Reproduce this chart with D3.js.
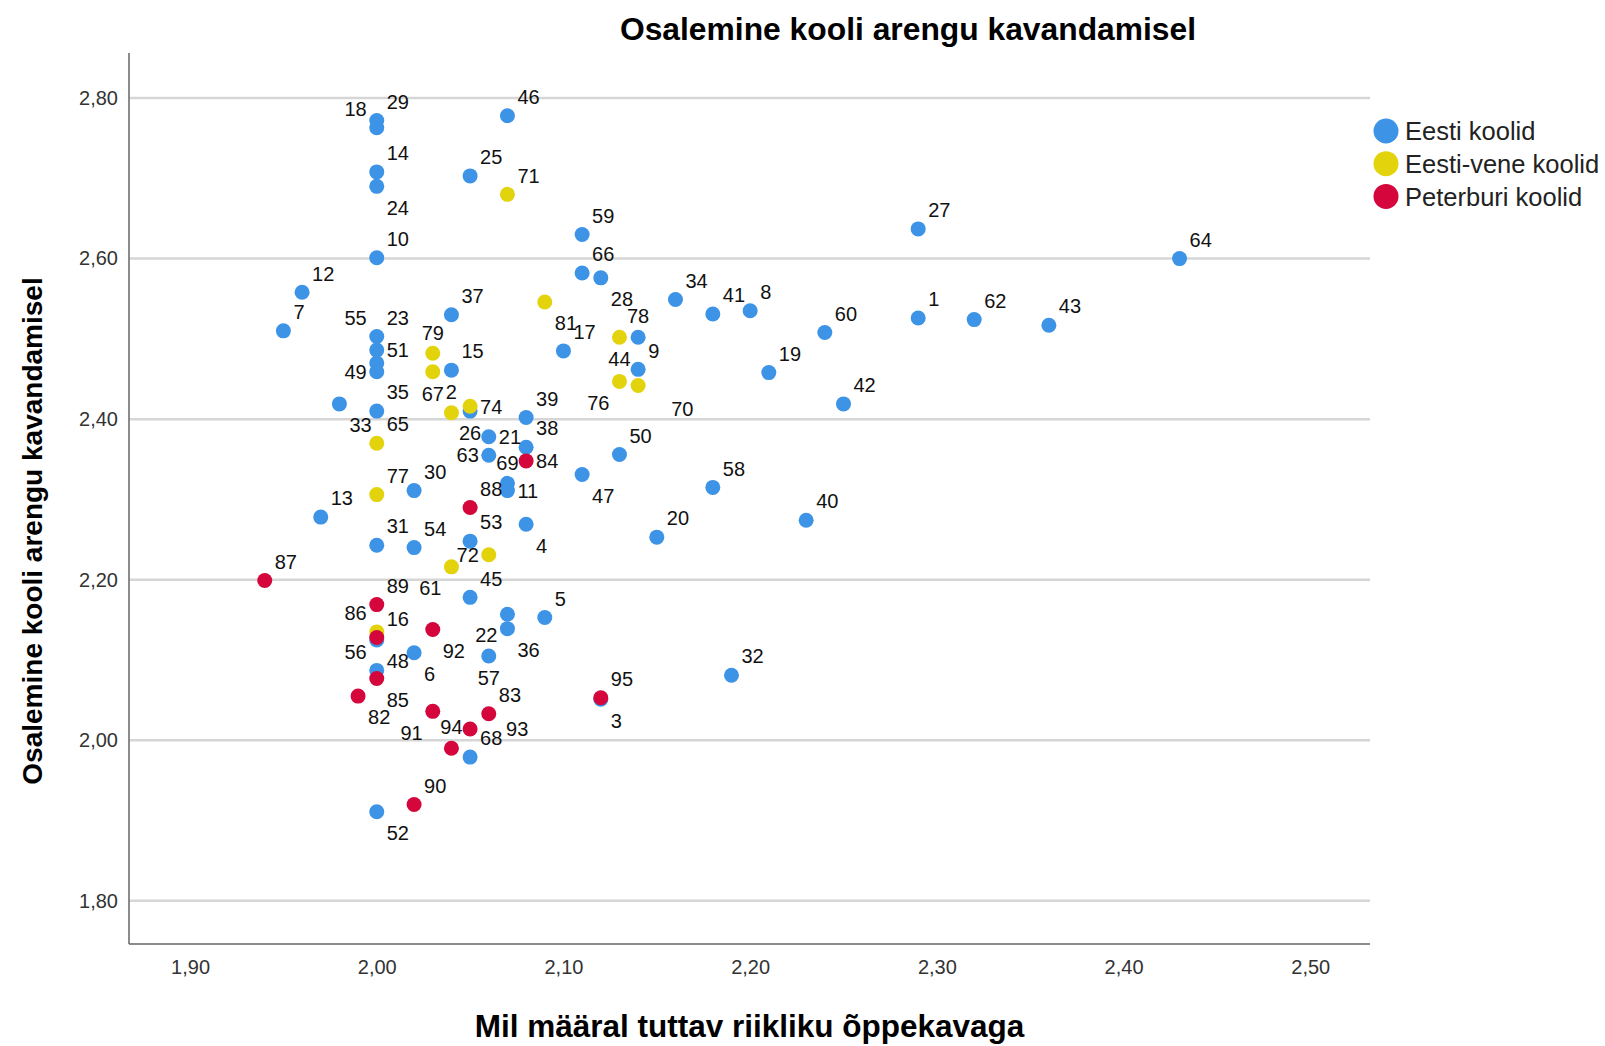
<!DOCTYPE html>
<html>
<head>
<meta charset="utf-8">
<script src="https://cdn.jsdelivr.net/npm/d3@7"></script>
<style>
  body { margin: 0; background: #fff; }
  text { font-family: "Liberation Sans", Arial, sans-serif; }
</style>
</head>
<body>
<div class="chart"></div>
<script>
// school number, x = familiarity with national curriculum, y = participation
var schoolIds = [
  29, 18, 46, 14, 24, 25, 10, 59, 27, 64, 66, 28, 12, 7, 37, 34, 41, 8, 60, 1,
  62, 43, 55, 51, 23, 49, 15, 17, 78, 9, 19, 42, 33, 35, 26, 39, 21, 38, 63, 50,
  69, 11, 47, 58, 30, 13, 40, 4, 20, 53, 31, 54, 45, 5, 22, 36, 6, 57, 48, 56,
  52, 68, 3, 32,
  71, 81, 44, 79, 67, 76, 70, 2, 74, 65, 77, 61, 72, 86,
  84, 88, 87, 89, 16, 92, 85, 82, 91, 83, 93, 94, 95, 90
];
var familiarity = [
  2.00, 2.00, 2.07, 2.00, 2.00, 2.05, 2.00, 2.11, 2.29, 2.43, 2.11, 2.12, 1.96, 1.95, 2.04, 2.16, 2.18, 2.20, 2.24, 2.29,
  2.32, 2.36, 2.00, 2.00, 2.00, 2.00, 2.04, 2.10, 2.14, 2.14, 2.21, 2.25, 1.98, 2.00, 2.05, 2.08, 2.06, 2.08, 2.06, 2.13,
  2.07, 2.07, 2.11, 2.18, 2.02, 1.97, 2.23, 2.08, 2.15, 2.05, 2.00, 2.02, 2.05, 2.09, 2.07, 2.07, 2.02, 2.06, 2.00, 2.00,
  2.00, 2.05, 2.12, 2.19,
  2.07, 2.09, 2.13, 2.03, 2.03, 2.13, 2.14, 2.04, 2.05, 2.00, 2.00, 2.04, 2.06, 2.00,
  2.08, 2.05, 1.94, 2.00, 2.00, 2.03, 2.00, 1.99, 2.03, 2.06, 2.05, 2.04, 2.12, 2.02
];
var participation = [
  2.772, 2.763, 2.778, 2.708, 2.690, 2.703, 2.601, 2.630, 2.637, 2.600, 2.582, 2.576, 2.558, 2.510, 2.530, 2.549, 2.531, 2.535, 2.508, 2.526,
  2.524, 2.517, 2.503, 2.486, 2.470, 2.459, 2.461, 2.485, 2.502, 2.462, 2.458, 2.419, 2.419, 2.410, 2.410, 2.402, 2.378, 2.365, 2.355, 2.356,
  2.320, 2.311, 2.331, 2.315, 2.311, 2.278, 2.274, 2.269, 2.253, 2.248, 2.243, 2.240, 2.178, 2.153, 2.157, 2.139, 2.109, 2.105, 2.125, 2.087,
  1.911, 1.979, 2.051, 2.081,
  2.680, 2.546, 2.502, 2.482, 2.459, 2.447, 2.442, 2.408, 2.416, 2.370, 2.306, 2.216, 2.231, 2.135,
  2.348, 2.290, 2.199, 2.169, 2.128, 2.138, 2.077, 2.055, 2.036, 2.033, 2.014, 1.990, 2.053, 1.920
];
var schoolGroup = [
  "E","E","E","E","E","E","E","E","E","E","E","E","E","E","E","E","E","E","E","E",
  "E","E","E","E","E","E","E","E","E","E","E","E","E","E","E","E","E","E","E","E",
  "E","E","E","E","E","E","E","E","E","E","E","E","E","E","E","E","E","E","E","E",
  "E","E","E","E",
  "V","V","V","V","V","V","V","V","V","V","V","V","V","V",
  "P","P","P","P","P","P","P","P","P","P","P","P","P","P"
];
// side of the point where the number label sits
var labelSide = [
  "ne","nw","ne","ne","se","ne","ne","ne","ne","ne","ne","se","ne","ne","ne","ne","ne","ne","ne","ne",
  "ne","ne","nw","e","ne2","w","ne","ne","n","ne","ne","ne","se","ne","s","ne","e","ne","w","ne",
  "n","e","se","ne","ne","ne","ne","se","ne","ne","ne","ne","ne","ne","sw","se","se","s","se","nw",
  "se","ne","se","ne",
  "ne","se","s","n","s","sw","se2","n","e","ne","ne","sw","w","nw",
  "e","ne","ne","ne","ne","se","se","se","sw","ne","e2","n","ne","ne"
];

var groupKeys = ["E", "V", "P"];
var groupNames = ["Eesti koolid", "Eesti-vene koolid", "Peterburi koolid"];
var groupColors = ["#3d93e6", "#e2d30c", "#d4063c"];

var xTicks = [1.9, 2.0, 2.1, 2.2, 2.3, 2.4, 2.5];
var yTicks = [1.8, 2.0, 2.2, 2.4, 2.6, 2.8];

var chartTitle = "Osalemine kooli arengu kavandamisel";
var xTitle = "Mil määral tuttav riikliku õppekavaga";
var yTitle = "Osalemine kooli arengu kavandamisel";

var svgWidth = 1605;
var svgHeight = 1046;
var plot = { left: 129, right: 1370, top: 53, bottom: 944 };

var points = schoolIds.map(function(id, i) {
  return { id: id, x: familiarity[i], y: participation[i], group: schoolGroup[i], side: labelSide[i] };
});

var placement = {
  ne:  { anchor: "start",  dx: 10,  dy: -19 },
  nw:  { anchor: "end",    dx: -10, dy: -19 },
  se:  { anchor: "start",  dx: 10,  dy: 21 },
  sw:  { anchor: "end",    dx: -10, dy: 21 },
  e:   { anchor: "start",  dx: 10,  dy: 0 },
  w:   { anchor: "end",    dx: -10, dy: 0 },
  n:   { anchor: "middle", dx: 0,   dy: -21 },
  s:   { anchor: "middle", dx: 0,   dy: 22 },
  ne2: { anchor: "start",  dx: 10,  dy: -45 },
  se2: { anchor: "start",  dx: 33,  dy: 23 },
  e2:  { anchor: "start",  dx: 36,  dy: 0 }
};

var color = d3.scaleOrdinal().domain(groupKeys).range(groupColors);
var commaFmt = function(v) { return d3.format(".2f")(v).replace(".", ","); };

var svg = d3.select(".chart")
  .append("svg")
  .attr("width", svgWidth)
  .attr("height", svgHeight);

var xScale = d3.scaleLinear()
  .domain([1.8673, 2.532])
  .range([plot.left, plot.right]);

var yScale = d3.scaleLinear()
  .domain([1.7462, 2.8561])
  .range([plot.bottom, plot.top]);

// gridlines
svg.append("g")
  .selectAll("line")
  .data(yTicks)
  .enter()
  .append("line")
  .attr("x1", plot.left)
  .attr("x2", plot.right)
  .attr("y1", d => yScale(d))
  .attr("y2", d => yScale(d))
  .attr("stroke", "#d6d6d6")
  .attr("stroke-width", 2.5);

// axes (labels only, no tick marks)
var leftAxis = d3.axisLeft(yScale).tickValues(yTicks).tickFormat(commaFmt).tickSize(0).tickPadding(11);
var bottomAxis = d3.axisBottom(xScale).tickValues(xTicks).tickFormat(commaFmt).tickSize(0).tickPadding(16);

var gy = svg.append("g")
  .attr("transform", `translate(${plot.left}, 0)`)
  .call(leftAxis);
var gx = svg.append("g")
  .attr("transform", `translate(0, ${plot.bottom})`)
  .call(bottomAxis);

[gx, gy].forEach(function(g) {
  g.select(".domain").remove();
  g.selectAll("text")
    .attr("font-size", 20)
    .attr("fill", "#333")
    .attr("font-family", "'Liberation Sans', Arial, sans-serif");
});

svg.append("line")
  .attr("x1", plot.left).attr("x2", plot.left)
  .attr("y1", plot.top).attr("y2", plot.bottom)
  .attr("stroke", "#666").attr("stroke-width", 1.5);
svg.append("line")
  .attr("x1", plot.left).attr("x2", plot.right)
  .attr("y1", plot.bottom).attr("y2", plot.bottom)
  .attr("stroke", "#666").attr("stroke-width", 1.5);

// points: Eesti first, then Eesti-vene, then Peterburi on top
groupKeys.forEach(function(key) {
  svg.append("g")
    .selectAll("circle")
    .data(points.filter(d => d.group === key))
    .enter()
    .append("circle")
    .attr("cx", d => xScale(d.x))
    .attr("cy", d => yScale(d.y))
    .attr("r", 7.5)
    .attr("fill", color(key));
});

// point labels
svg.append("g")
  .selectAll("text")
  .data(points)
  .enter()
  .append("text")
  .attr("x", d => xScale(d.x) + placement[d.side].dx)
  .attr("y", d => yScale(d.y) + placement[d.side].dy)
  .attr("dy", "0.36em")
  .attr("text-anchor", d => placement[d.side].anchor)
  .attr("font-size", 20)
  .attr("fill", "#111")
  .text(d => d.id);

// titles
svg.append("text")
  .attr("x", 908)
  .attr("y", 40)
  .attr("text-anchor", "middle")
  .attr("font-size", 31.8)
  .attr("font-weight", "bold")
  .text(chartTitle);

svg.append("text")
  .attr("x", (plot.left + plot.right) / 2)
  .attr("y", 1037)
  .attr("text-anchor", "middle")
  .attr("font-size", 31.5)
  .attr("font-weight", "bold")
  .text(xTitle);

svg.append("text")
  .attr("transform", "translate(42, 531) rotate(-90)")
  .attr("text-anchor", "middle")
  .attr("font-size", 28)
  .attr("font-weight", "bold")
  .text(yTitle);

// legend
var legend = svg.append("g")
  .selectAll("g")
  .data(groupKeys)
  .enter()
  .append("g")
  .attr("transform", (d, i) => `translate(1386, ${131 + i * 32.7})`);

legend.append("circle")
  .attr("r", 12.5)
  .attr("fill", d => color(d));

legend.append("text")
  .attr("x", 19)
  .attr("dy", "0.36em")
  .attr("font-size", 25.5)
  .attr("fill", "#222")
  .text((d, i) => groupNames[i]);
</script>
</body>
</html>
